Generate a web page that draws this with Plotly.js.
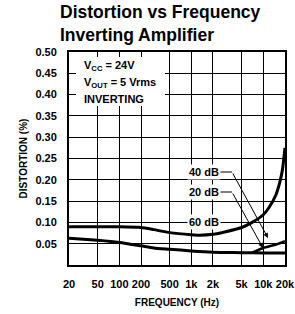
<!DOCTYPE html>
<html>
<head>
<meta charset="utf-8">
<script src="https://cdn.plot.ly/plotly-3.0.1.min.js"></script>
<style>html,body{margin:0;padding:0;background:#fff;}#chart{width:295px;height:314px;}</style>
</head>
<body>
<div id="chart"></div>
<script>
// Data
const freqTicks = [20, 50, 100, 200, 500, 1000, 2000, 5000, 10000, 20000];
const freqTickText = ['20', '50', '100', '200', '500', '1k', '2k', '5k', '10k', '20k'];
const distTicks = [0.05, 0.10, 0.15, 0.20, 0.25, 0.30, 0.35, 0.40, 0.45, 0.50];
const distTickText = ['0.05', '0.10', '0.15', '0.20', '0.25', '0.30', '0.35', '0.40', '0.45', '0.50'];

const freq60 = [20, 50, 100, 200, 300, 500, 1000, 1300, 2000, 3000, 5000, 7000, 10000, 12000, 15000, 17000, 18500, 20000];
const dist60 = [0.090, 0.090, 0.090, 0.088, 0.083, 0.076, 0.071, 0.070, 0.072, 0.078, 0.088, 0.100, 0.118, 0.135, 0.165, 0.195, 0.225, 0.275];

const freq20 = [20, 50, 100, 200, 300, 500, 1000, 2000, 5000, 10000, 20000];
const dist20 = [0.063, 0.058, 0.053, 0.045, 0.040, 0.037, 0.033, 0.030, 0.029, 0.028, 0.028];

const freq40 = [7000, 10000, 15000, 20000];
const dist40 = [0.029, 0.040, 0.048, 0.056];

const black = '#000';
const FAM = 'Arial, Liberation Sans, sans-serif';
const tickFont = {family: FAM, size: 11, color: black, weight: 'bold'};

const traces = [
  {x: freq60, y: dist60, mode: 'lines', line: {color: black, width: 3, shape: 'spline', smoothing: 0.6}, hoverinfo: 'skip'},
  {x: freq20, y: dist20, mode: 'lines', line: {color: black, width: 3, shape: 'spline', smoothing: 0.6}, hoverinfo: 'skip'},
  {x: freq40, y: dist40, mode: 'lines', line: {color: black, width: 2.5, shape: 'spline', smoothing: 0.6}, hoverinfo: 'skip'}
];

function px2xp(p){ return (p - 69) / 216; }
function px2yp(p){ return (265 - p) / 213; }

const boxFont = {family: FAM, size: 11, color: black, weight: 'bold'};
const lblFont = {family: FAM, size: 11, color: black, weight: 'bold'};

const layout = {
  width: 295, height: 314,
  margin: {l: 69, r: 10, t: 52, b: 49},
  paper_bgcolor: '#fff', plot_bgcolor: '#fff',
  showlegend: false,
  title: {
    text: 'Distortion vs Frequency<br>Inverting Amplifier',
    font: {family: FAM, size: 17.5, color: black, weight: 'bold'},
    x: 60/295, xanchor: 'left', xref: 'container',
    y: 1 - 18/314, yanchor: 'top', yref: 'container'
  },
  xaxis: {
    type: 'log', range: [Math.log10(20) - 0.0005, Math.log10(20000) + 0.0005],
    tickvals: freqTicks, ticktext: freqTickText,
    showgrid: true, gridcolor: black, gridwidth: 1,
    showline: true, linecolor: black, linewidth: 2, mirror: true,
    ticks: '', ticklabelstandoff: 8, ticklabeloverflow: 'allow',
    tickfont: tickFont, zeroline: false,
    title: {text: 'FREQUENCY (Hz)', font: {family: FAM, size: 10, color: black, weight: 'bold'}, standoff: 10}
  },
  yaxis: {
    range: [0, 0.5],
    tickvals: distTicks, ticktext: distTickText,
    showgrid: true, gridcolor: black, gridwidth: 1,
    showline: true, linecolor: black, linewidth: 2, mirror: true,
    ticks: '', ticklabelstandoff: 8,
    tickfont: tickFont, zeroline: false,
    title: {text: 'DISTORTION (%)', font: {family: FAM, size: 10, color: black, weight: 'bold'}, standoff: 6}
  },
  shapes: [
    {type: 'rect', xref: 'paper', yref: 'paper', x0: px2xp(76), x1: px2xp(165), y0: px2yp(106), y1: px2yp(57), fillcolor: '#fff', line: {width: 0}, layer: 'above'},
    {type: 'line', xref: 'paper', yref: 'paper', x0: px2xp(219), x1: px2xp(232), y0: px2yp(172), y1: px2yp(172), line: {color: black, width: 1}},
    {type: 'line', xref: 'paper', yref: 'paper', x0: px2xp(219), x1: px2xp(232), y0: px2yp(192), y1: px2yp(192), line: {color: black, width: 1}}
  ],
  annotations: [
    {xref: 'paper', yref: 'paper', x: px2xp(82), y: px2yp(66), xanchor: 'left', yanchor: 'middle', text: 'V<sub>CC</sub> = 24V', showarrow: false, font: boxFont},
    {xref: 'paper', yref: 'paper', x: px2xp(82), y: px2yp(83), xanchor: 'left', yanchor: 'middle', text: 'V<sub>OUT</sub> = 5 Vrms', showarrow: false, font: boxFont},
    {xref: 'paper', yref: 'paper', x: px2xp(82), y: px2yp(99), xanchor: 'left', yanchor: 'middle', text: 'INVERTING', showarrow: false, font: boxFont},
    {xref: 'paper', yref: 'paper', x: px2xp(204), y: px2yp(172), xanchor: 'center', yanchor: 'middle', text: '40 dB', showarrow: false, font: lblFont, bgcolor: '#fff', borderpad: 1},
    {xref: 'paper', yref: 'paper', x: px2xp(204), y: px2yp(192), xanchor: 'center', yanchor: 'middle', text: '20 dB', showarrow: false, font: lblFont, bgcolor: '#fff', borderpad: 1},
    {xref: 'paper', yref: 'paper', x: px2xp(204), y: px2yp(222), xanchor: 'center', yanchor: 'middle', text: '60 dB', showarrow: false, font: lblFont, bgcolor: '#fff', borderpad: 1},
    {xref: 'paper', yref: 'paper', x: px2xp(268), y: px2yp(238), text: '', showarrow: true, arrowhead: 2, arrowsize: 1, arrowwidth: 1, arrowcolor: black, axref: 'pixel', ayref: 'pixel', ax: -36, ay: -66, standoff: 0},
    {xref: 'paper', yref: 'paper', x: px2xp(263), y: px2yp(248), text: '', showarrow: true, arrowhead: 2, arrowsize: 1, arrowwidth: 1, arrowcolor: black, axref: 'pixel', ayref: 'pixel', ax: -31, ay: -56, standoff: 0}
  ]
};

Plotly.newPlot('chart', traces, layout, {staticPlot: true, displayModeBar: false});
</script>
</body>
</html>
